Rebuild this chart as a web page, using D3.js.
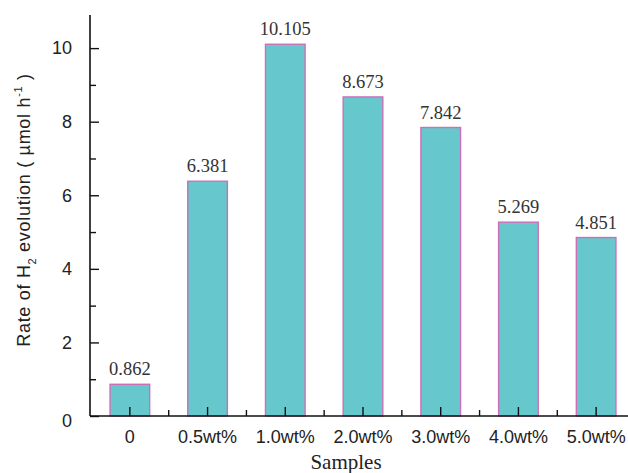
<!DOCTYPE html>
<html>
<head>
<meta charset="utf-8">
<script src="https://cdn.jsdelivr.net/npm/d3@7"></script>
<style>
  body { margin: 0; background: #fff; }
  svg { display: block; }
</style>
</head>
<body>
<script>
const samples = ["0", "0.5wt%", "1.0wt%", "2.0wt%", "3.0wt%", "4.0wt%", "5.0wt%"];
const rates = [0.862, 6.381, 10.105, 8.673, 7.842, 5.269, 4.851];
const yTicks = [0, 2, 4, 6, 8, 10];
const yMinorTicks = [1, 3, 5, 7, 9];

const width = 628, height = 473;
const x0 = 90, y0 = 416;
const sans = "Liberation Sans, Arial, sans-serif";
const serif = "Liberation Serif, serif";

const svg = d3.select("body").append("svg")
  .attr("width", width).attr("height", height);

const x = d3.scaleBand().domain(samples).range([91, 635]).paddingInner(0.49).paddingOuter(0.245);
const y = d3.scaleLinear().domain([0, 10.9]).range([y0, 15]);

// bars
svg.selectAll("rect.bar").data(rates).enter().append("rect")
  .attr("class", "bar")
  .attr("x", (d, i) => x(samples[i]))
  .attr("y", d => y(d))
  .attr("width", x.bandwidth())
  .attr("height", d => y0 - y(d))
  .attr("fill", "#66c8cd")
  .attr("stroke", "#cc6fb8")
  .attr("stroke-width", 1.4);

// value labels
svg.selectAll("text.val").data(rates).enter().append("text")
  .attr("class", "val")
  .attr("x", (d, i) => x(samples[i]) + x.bandwidth() / 2)
  .attr("y", d => y(d) - 9)
  .attr("text-anchor", "middle")
  .attr("font-family", serif)
  .attr("font-size", 18.5)
  .attr("fill", "#333")
  .text(d => d.toFixed(3));

// y axis
const yAxis = svg.append("g").attr("transform", `translate(${x0},0)`)
  .call(d3.axisRight(y).tickValues(yTicks).tickSize(9).tickFormat(d3.format("d")));
yAxis.select(".domain").attr("d", `M0,${y0}V15`).attr("stroke", "#111").attr("stroke-width", 1.6);
yAxis.selectAll(".tick line").attr("stroke", "#111").attr("stroke-width", 1.4);
yAxis.selectAll(".tick text")
  .attr("x", -18).attr("text-anchor", "end")
  .attr("font-family", sans)
  .attr("font-size", 18).attr("fill", "#222");
yAxis.selectAll(".tick").filter(d => d === 0).select("text").attr("dy", "0.6em");

const yMinor = svg.append("g").attr("transform", `translate(${x0},0)`)
  .call(d3.axisRight(y).tickValues(yMinorTicks).tickSize(6).tickFormat(""));
yMinor.select(".domain").remove();
yMinor.selectAll(".tick line").attr("stroke", "#111").attr("stroke-width", 1.4);

// x axis
const xAxis = svg.append("g").attr("transform", `translate(0,${y0})`)
  .call(d3.axisTop(x).tickSize(9).tickFormat(""));
xAxis.select(".domain").attr("d", `M${x0},0H${width}`).attr("stroke", "#111").attr("stroke-width", 1.6);
xAxis.selectAll(".tick line").attr("stroke", "#111").attr("stroke-width", 1.4);

const bounds = samples.slice(1).map(s => x(s) - x.step() * x.paddingInner() / 2);
svg.append("g").selectAll("line").data(bounds).enter().append("line")
  .attr("x1", d => d).attr("x2", d => d)
  .attr("y1", y0).attr("y2", y0 - 6)
  .attr("stroke", "#111").attr("stroke-width", 1.4);

svg.append("g").selectAll("text").data(samples).enter().append("text")
  .attr("x", d => x(d) + x.bandwidth() / 2)
  .attr("y", 443)
  .attr("text-anchor", "middle")
  .attr("font-family", sans)
  .attr("font-size", 18).attr("fill", "#222")
  .text(d => d);

// axis titles
svg.append("text")
  .attr("x", 346).attr("y", 469)
  .attr("text-anchor", "middle")
  .attr("font-family", serif)
  .attr("font-size", 21).attr("fill", "#222")
  .text("Samples");

const yt = svg.append("text")
  .attr("transform", "translate(30,210) rotate(-90)")
  .attr("text-anchor", "middle")
  .attr("font-family", sans)
  .attr("font-size", 18).attr("letter-spacing", 0.7).attr("fill", "#222");
yt.append("tspan").text("Rate of H");
yt.append("tspan").attr("font-size", 11).attr("dy", 6).text("2");
yt.append("tspan").attr("dy", -6).text("  evolution (  \u00b5mol h");
yt.append("tspan").attr("font-size", 11).attr("dy", -8).text("-1");
yt.append("tspan").attr("dy", 8).text("  )");
</script>
</body>
</html>
